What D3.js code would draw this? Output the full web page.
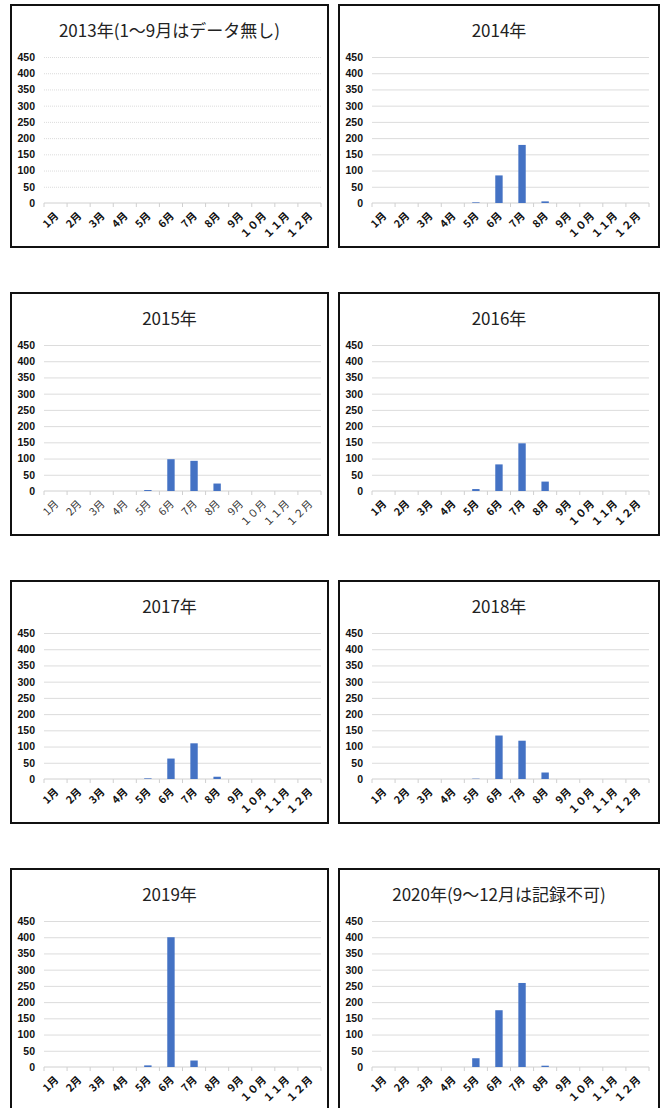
<!DOCTYPE html>
<html>
<head>
<meta charset="utf-8">
<script src="https://cdn.jsdelivr.net/npm/d3@7"></script>
<style>
  body { margin: 0; background: #fff; }
  svg { display: block; }
</style>
</head>
<body>
<div id="container"></div>
<script>
/* CONSTANTS AND GLOBALS */
const width = 667;
const height = 1108;

/* DATA */
const months = ["1月", "2月", "3月", "4月", "5月", "6月", "7月", "8月", "9月", "１０月", "１１月", "１２月"];
const yTicks = [0, 50, 100, 150, 200, 250, 300, 350, 400, 450];
const titles = ["2013年(1〜9月はデータ無し)", "2014年", "2015年", "2016年", "2017年", "2018年", "2019年", "2020年(9〜12月は記録不可)"];

const counts2013 = [0, 0, 0, 0, 0, 0, 0, 0, 0, 0, 0, 0];
const counts2014 = [0, 0, 0, 0, 2, 85, 179, 5, 0, 0, 0, 0];
const counts2015 = [0, 0, 0, 0, 3, 98, 93, 23, 0, 0, 0, 0];
const counts2016 = [0, 0, 0, 0, 6, 82, 147, 29, 0, 0, 0, 0];
const counts2017 = [0, 0, 0, 0, 2, 63, 110, 7, 0, 0, 0, 0];
const counts2018 = [0, 0, 0, 0, 1, 134, 118, 20, 0, 0, 0, 0];
const counts2019 = [0, 0, 0, 0, 5, 400, 20, 0, 0, 0, 0, 0];
const counts2020 = [0, 0, 0, 0, 27, 175, 259, 4, 0, 0, 0, 0];

const allCounts = [counts2013, counts2014, counts2015, counts2016, counts2017, counts2018, counts2019, counts2020];

/* LAYOUT */
const colX = [11, 339];
const colW = [317, 320];
const rowY = [5, 293, 581, 869];
const boxH = 242;
const plot = { left: 33, right: 310, top: 52, bottom: 198 };
const barColor = "#4472C4";

const svg = d3.select("#container")
  .append("svg")
  .attr("width", width)
  .attr("height", height)
  .style("background-color", "white")

allCounts.forEach((counts, i) => {
  const col = i % 2;
  const row = Math.floor(i / 2);
  const data = months.map((m, j) => ({ month: m, count: counts[j] }));

  const g = svg.append("g")
    .attr("transform", `translate(${colX[col]}, ${rowY[row]})`)

  // frame
  g.append("rect")
    .attr("x", 0)
    .attr("y", 0)
    .attr("width", colW[col])
    .attr("height", boxH)
    .attr("fill", "white")
    .attr("stroke", "#111")
    .attr("stroke-width", 2)

  // title
  g.append("text")
    .attr("x", colW[col] / 2)
    .attr("y", 32)
    .attr("text-anchor", "middle")
    .style("font-family", "'Noto Sans CJK JP', 'Noto Sans', sans-serif")
    .style("font-size", "17px")
    .attr("fill", "#222")
    .text(titles[i])

  /* SCALES */
  const xScale = d3.scaleBand()
    .domain(months)
    .range([plot.left, plot.right])
    .paddingInner(0.68)
    .paddingOuter(0.34)

  const xEdges = d3.scaleBand()
    .domain(months)
    .range([plot.left, plot.right])
    .padding(0)

  const yScale = d3.scaleLinear()
    .domain([0, 450])
    .range([plot.bottom, plot.top])

  // gridlines
  const grid = g.append("g")
    .attr("transform", `translate(${plot.left}, 0)`)
    .call(d3.axisLeft(yScale).tickValues(yTicks.slice(1)).tickSize(-(plot.right - plot.left)).tickFormat(""))
  grid.select(".domain").remove()
  grid.selectAll("line")
    .attr("stroke", "#dcdcdc")
    .attr("stroke-dasharray", i === 0 ? "1,1" : null)

  // y labels
  const yAxisGroup = g.append("g")
    .attr("transform", `translate(${plot.left - 9}, 0)`)
    .call(d3.axisLeft(yScale).tickValues(yTicks).tickSize(0).tickPadding(0))
  yAxisGroup.select(".domain").remove()
  yAxisGroup.selectAll("text")
    .style("font-family", "'Liberation Sans', Arial, sans-serif")
    .style("font-size", "10.5px")
    .style("font-weight", "bold")
    .attr("fill", "#111")

  // x axis line and ticks between categories
  g.append("line")
    .attr("x1", plot.left)
    .attr("x2", plot.right)
    .attr("y1", plot.bottom)
    .attr("y2", plot.bottom)
    .attr("stroke", "#d0d0d0")

  g.selectAll("line.tick-x")
    .data(months.concat(["end"]))
    .join("line")
    .attr("class", "tick-x")
    .attr("x1", d => d === "end" ? plot.right : xEdges(d))
    .attr("x2", d => d === "end" ? plot.right : xEdges(d))
    .attr("y1", plot.bottom)
    .attr("y2", plot.bottom + 4)
    .attr("stroke", "#d0d0d0")

  // bars
  g.selectAll("rect.bar")
    .data(data)
    .join("rect")
    .attr("class", "bar")
    .attr("x", d => xScale(d.month))
    .attr("width", xScale.bandwidth())
    .attr("y", d => yScale(d.count))
    .attr("height", d => plot.bottom - yScale(d.count))
    .attr("fill", barColor)

  // x labels, rotated
  g.selectAll("text.xlab")
    .data(months)
    .join("text")
    .attr("class", "xlab")
    .attr("text-anchor", "end")
    .attr("transform", d => `translate(${xScale(d) + xScale.bandwidth() / 2 + 1}, ${plot.bottom + 11}) rotate(-45)`)
    .attr("dy", "0.35em")
    .style("font-family", "'Noto Sans CJK JP', sans-serif")
    .style("font-size", "10.5px")
    .style("font-weight", i === 2 ? "normal" : "bold")
    .attr("fill", i === 2 ? "#333" : "#111")
    .text(d => d)
})
</script>
</body>
</html>
